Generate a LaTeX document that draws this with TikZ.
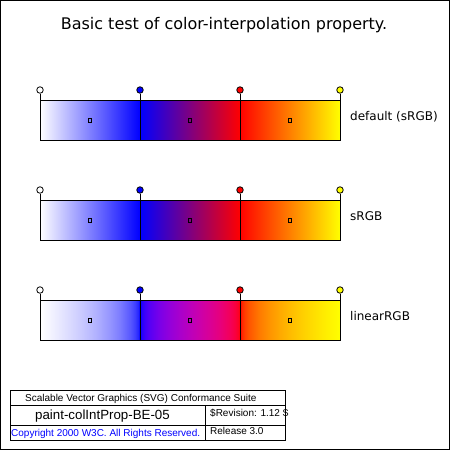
\documentclass[tikz,border=0pt]{standalone}
\usepackage{fontspec}
\setmainfont{DejaVu Sans}
\newfontfamily\footfont{Liberation Sans}
\usetikzlibrary{positioning}
\definecolor{stopWhite}{RGB}{255,255,255}
\definecolor{stopBlue}{RGB}{0,0,255}
\definecolor{stopRed}{RGB}{255,0,0}
\definecolor{stopYellow}{RGB}{255,255,0}
\definecolor{copyBlue}{RGB}{0,0,255}
% gradients done in linear light (gamma decoded), 25bp..75bp is the fitted part
\pgfdeclarehorizontalshading{linWB}{100bp}{rgb(0bp)=(1,1,1); rgb(25bp)=(1,1,1);
  rgb(30bp)=(0.955,0.955,1); rgb(35bp)=(0.906,0.906,1); rgb(40bp)=(0.854,0.854,1);
  rgb(45bp)=(0.798,0.798,1); rgb(50bp)=(0.735,0.735,1); rgb(55bp)=(0.665,0.665,1);
  rgb(60bp)=(0.584,0.584,1); rgb(65bp)=(0.485,0.485,1); rgb(70bp)=(0.349,0.349,1);
  rgb(72.5bp)=(0.248,0.248,1); rgb(74bp)=(0.152,0.152,1); rgb(75bp)=(0,0,1); rgb(100bp)=(0,0,1)}
\pgfdeclarehorizontalshading{linBR}{100bp}{rgb(0bp)=(0,0,1); rgb(25bp)=(0,0,1);
  rgb(26bp)=(0.152,0,0.99); rgb(27.5bp)=(0.248,0,0.978); rgb(30bp)=(0.349,0,0.955);
  rgb(35bp)=(0.485,0,0.906); rgb(40bp)=(0.584,0,0.854); rgb(45bp)=(0.665,0,0.798);
  rgb(50bp)=(0.735,0,0.735); rgb(55bp)=(0.798,0,0.665); rgb(60bp)=(0.854,0,0.584);
  rgb(65bp)=(0.906,0,0.485); rgb(70bp)=(0.955,0,0.349); rgb(72.5bp)=(0.978,0,0.248);
  rgb(74bp)=(0.99,0,0.152); rgb(75bp)=(1,0,0); rgb(100bp)=(1,0,0)}
\pgfdeclarehorizontalshading{linRY}{100bp}{rgb(0bp)=(1,0,0); rgb(25bp)=(1,0,0);
  rgb(26bp)=(1,0.152,0); rgb(27.5bp)=(1,0.248,0); rgb(30bp)=(1,0.349,0);
  rgb(35bp)=(1,0.485,0); rgb(40bp)=(1,0.584,0); rgb(45bp)=(1,0.665,0);
  rgb(50bp)=(1,0.735,0); rgb(55bp)=(1,0.798,0); rgb(60bp)=(1,0.854,0);
  rgb(65bp)=(1,0.906,0); rgb(70bp)=(1,0.955,0); rgb(75bp)=(1,1,0); rgb(100bp)=(1,1,0)}
\tikzset{
  frame/.style={draw=black, line width=1pt},
  bar/.style={draw=black, line width=1pt},
  stopline/.style={draw=black, line width=1pt},
  stopdot/.style={circle, draw=black, line width=0.8pt, minimum size=6.5pt, inner sep=0pt},
  marker/.style={rectangle, draw=black, line width=0.9pt, minimum width=3.5pt, minimum height=4pt, inner sep=0pt},
  title/.style={inner sep=0pt, font=\fontsize{16}{19}\selectfont},
  barlabel/.style={inner sep=0pt, anchor=base west, font=\fontsize{12}{14}\selectfont},
  foot/.style={inner sep=0pt, anchor=base west, font=\footfont\fontsize{10}{12}\selectfont}
}

\begin{document}
\begin{tikzpicture}[x=1pt, y=-1pt]
\useasboundingbox (0,0) rectangle (450,450);
\draw[frame] (0.5,0.5) rectangle (449.5,449.5);

\node[title, anchor=base] (head) at (224,29) {Basic test of color-interpolation property.};

% the three bars
\foreach \r/\y/\lab in {1/100/default (sRGB), 2/200/sRGB, 3/300/linearRGB} {
  \ifnum\r<3
    \shade[left color=stopWhite, right color=stopBlue] (40,\y) rectangle (140,\y+40);
    \shade[left color=stopBlue, right color=stopRed] (140,\y) rectangle (240,\y+40);
    \shade[left color=stopRed, right color=stopYellow] (240,\y) rectangle (340,\y+40);
  \else
    \shade[shading=linWB] (40,\y) rectangle (140,\y+40);
    \shade[shading=linBR] (140,\y) rectangle (240,\y+40);
    \shade[shading=linRY] (240,\y) rectangle (340,\y+40);
  \fi
  \draw[bar] (40,\y) rectangle (340,\y+40);
  \foreach \k/\x/\c in {1/40/stopWhite, 2/140/stopBlue, 3/240/stopRed, 4/340/stopYellow} {
    \coordinate (b\r\k) at (\x,\y+40);
    \node[stopdot, fill=\c] (s\r\k) at (\x,\y-10) {};
    \draw[stopline] (s\r\k) -- (b\r\k);
  }
  \foreach \k/\x in {1/90, 2/190, 3/290}
    \node[marker] (m\r\k) at (\x,\y+20.5) {};
  \node[barlabel] (lab\r) at (350,\y+20.5) {\lab};
}

% conformance suite box
\draw[frame, line width=0.9pt] (10,390) rectangle (285,440);
\draw[frame, line width=0.9pt] (10,405) -- (285,405);
\draw[frame, line width=0.9pt] (10,425) -- (285,425);
\draw[frame, line width=0.9pt] (205,405) -- (205,440);
\node[foot] (suite) at (25,401) {Scalable Vector Graphics (SVG) Conformance Suite};
\node[foot, font=\footfont\fontsize{13.3}{15}\selectfont] (testname) at (35,419) {paint-colIntProp-BE-05};
\node[foot] (revision) at (210,416) {\$Revision: 1.12 \$};
\node[foot, text=copyBlue] (copy) at (11,436) {Copyright 2000 W3C. All Rights Reserved.};
\node[foot] (release) at (210,434) {Release 3.0};
\end{tikzpicture}
\end{document}
